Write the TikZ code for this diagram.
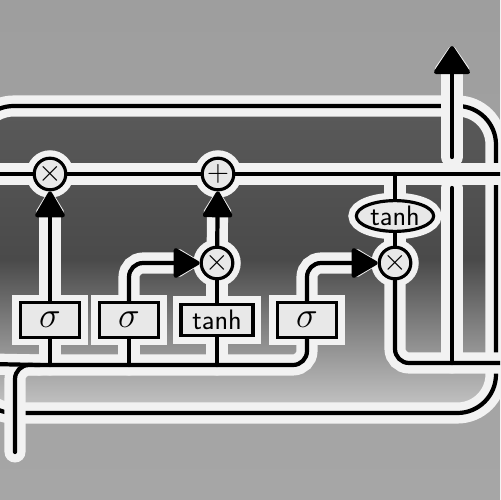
\documentclass[tikz,border=0pt]{standalone}
\usetikzlibrary{arrows.meta,shapes.geometric}
\pgfdeclarelayer{bg}
\pgfdeclarelayer{halo}
\pgfsetlayers{bg,halo,main}
\definecolor{bgtop}{HTML}{9E9E9E}
\definecolor{bgbot}{HTML}{A6A6A6}
\definecolor{boxtop}{HTML}{5A5A5A}
\definecolor{boxmid}{HTML}{4A4A4A}
\definecolor{boxbot}{HTML}{C8C8C8}
\definecolor{halocol}{HTML}{F2F2F2}
\definecolor{nodefill}{HTML}{E8E8E8}
\newcommand\conn[2][]{%
  \begin{pgfonlayer}{halo}\draw[halo,#1] #2;\end{pgfonlayer}%
  \draw[wire,#1] #2;}
\begin{document}
\begin{tikzpicture}[x=0.02cm,y=-0.02cm,
  wire/.style={line width=2.4pt,draw=black,line cap=round},
  halo/.style={line width=12pt,draw=halocol,line cap=round},
  tip/.style={-{Triangle[length=16pt,width=18pt,round]}},
  bigtip/.style={-{Triangle[length=17pt,width=22pt,round]}},
  gate/.style={draw=black,line width=1.8pt,fill=nodefill,minimum width=34pt,minimum height=20pt,inner sep=0pt,
    preaction={draw=halocol,line width=9pt},font=\fontsize{20}{22}\selectfont},
  tanhbox/.style={gate,minimum width=41pt,minimum height=18pt,font=\sffamily\fontsize{16}{18}\selectfont},
  op/.style={circle,draw=black,line width=1.8pt,fill=nodefill,minimum size=18pt,inner sep=0pt,
    preaction={draw=halocol,line width=9pt},font=\fontsize{18}{20}\selectfont},
  tanhell/.style={ellipse,draw=black,line width=1.8pt,fill=nodefill,minimum width=44pt,minimum height=17.5pt,inner sep=0pt,
    preaction={draw=halocol,line width=9pt},font=\sffamily\fontsize{16}{18}\selectfont}]
\useasboundingbox (0,0) rectangle (500,500);
\clip (0,0) rectangle (500,500);
\begin{pgfonlayer}{bg}
  \fill[top color=bgtop,bottom color=bgbot] (0,0) rectangle (500,500);
  \fill[top color=boxtop,bottom color=boxbot,middle color=boxmid,rounded corners=22pt] (-25,106) rectangle (496,413);
  \draw[halo,rounded corners=22pt] (-25,106) rectangle (496,413);
  \draw[wire,rounded corners=22pt] (-25,106) rectangle (496,413);
\end{pgfonlayer}
% nodes
\node[op] (x1) at (50,174) {$\times$};
\node[op] (pl) at (218,174) {$+$};
\node[op] (x2) at (217,263) {$\times$};
\node[op] (x3) at (395,263) {$\times$};
\node[tanhell] (th2) at (395,216) {tanh};
\node[gate] (s1) at (50,320) {$\sigma$};
\node[gate] (s2) at (129,320) {$\sigma$};
\node[tanhbox] (th1) at (217,320) {tanh};
\node[gate] (s3) at (307,320) {$\sigma$};
% coordinates
\coordinate (cl) at (-10,174);
\coordinate (cr) at (510,174);
\coordinate (ct) at (395,174);
\coordinate (bus) at (0,365);
\coordinate (xin) at (15,452);
\coordinate (hin) at (-10,364);
\coordinate (hj) at (40,365);
\coordinate (hr) at (510,363);
\coordinate (hd) at (452,363);
\coordinate (hg1) at (452,188);
\coordinate (hg2) at (452,157);
\coordinate (top) at (452,46);
% cell state
\conn{(cl) -- (x1)}
\conn{(x1) -- (pl)}
\conn{(pl) -- (cr)}
% gates
\conn[tip]{(s1) -- (x1)}
\conn[tip,rounded corners=8pt]{(s2.north) |- (x2)}
\conn{(th1) -- (x2)}
\conn[tip]{(x2) -- (pl)}
\conn[tip,rounded corners=8pt]{(s3.north) |- (x3)}
\conn{(ct) -- (th2)}
\conn{(th2) -- (x3)}
\conn[rounded corners=8pt]{(x3) |- (hr)}
\conn{(hd) -- (hg1)}
\conn[bigtip]{(hg2) -- (top)}
% input bus
\conn[rounded corners=8pt]{(xin) -- (xin |- bus) -- (s3.south |- bus) -- (s3.south)}
\conn{(hin) -- (hj)}
\conn{(s1.south) -- (s1.south |- bus)}
\conn{(s2.south) -- (s2.south |- bus)}
\conn{(th1.south) -- (th1.south |- bus)}
\end{tikzpicture}
\end{document}
